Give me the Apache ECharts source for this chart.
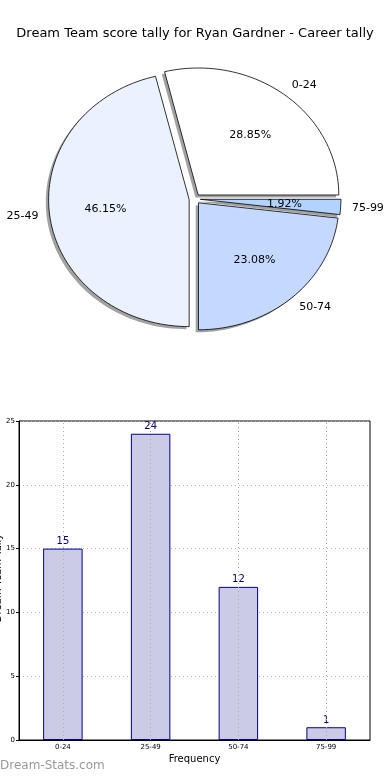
<!DOCTYPE html>
<html>
<head>
<meta charset="utf-8">
<style>
html,body{margin:0;padding:0;background:#fff;}
#c{width:390px;height:780px;}
</style>
<script src="https://cdn.jsdelivr.net/npm/echarts@6/dist/echarts.min.js"></script>
</head>
<body>
<div id="c"></div>
<script>
const titleText = 'Dream Team score tally for Ryan Gardner - Career tally';
const categories = ['0-24', '25-49', '50-74', '75-99'];
const tallies = [15, 24, 12, 1];
const sliceColors = ['#ffffff', '#ebf2ff', '#c5d9ff', '#b3d3ff'];
const yTicks = [0, 5, 10, 15, 20, 25];
const xAxisName = 'Frequency';
const yAxisName = 'Dream Team Tally';
const watermark = 'Dream-Stats.com';

const FONT = 'DejaVu Sans';
const total = tallies.reduce((a, b) => a + b, 0);
const startAngles = [];
let acc = 0;
tallies.forEach(v => { startAngles.push(acc / total * 360); acc += v; });
const EXPLODE = 0.04;

function slicePts(i, api, dx, dy) {
  const t1 = startAngles[i], t2 = t1 + tallies[i] / total * 360;
  const mid = (t1 + t2) / 2 * Math.PI / 180;
  const ox = EXPLODE * Math.cos(mid) + dx, oy = EXPLODE * Math.sin(mid) + dy;
  const pts = [api.coord([ox, oy])];
  const n = Math.max(4, Math.ceil((t2 - t1) / 2));
  for (let k = 0; k <= n; k++) {
    const a = (t1 + (t2 - t1) * k / n) * Math.PI / 180;
    pts.push(api.coord([ox + Math.cos(a), oy + Math.sin(a)]));
  }
  return { pts, mid, ox: ox - dx, oy: oy - dy };
}

const chart = echarts.init(document.getElementById('c'), null, { renderer: 'canvas' });
chart.setOption({
  animation: false,
  backgroundColor: '#fff',
  textStyle: { fontFamily: FONT },
  title: {
    text: titleText, left: 'center', top: 22,
    textStyle: { fontFamily: FONT, fontSize: 13, fontWeight: 'normal', color: '#000' }
  },
  graphic: [
    {
      type: 'text', left: 0, top: 760,
      style: { text: watermark, fontFamily: FONT, fontSize: 12, fontWeight: 'normal', fill: '#999999' }
    },
    {
      type: 'text', x: -2, y: 578, rotation: Math.PI / 2,
      style: { text: yAxisName, fontFamily: FONT, fontSize: 10, fill: '#000', align: 'center', verticalAlign: 'middle' }
    }
  ],
  grid: [
    { left: 19, right: 20, top: 421, bottom: 40, show: true, borderColor: '#000', borderWidth: 1,
      containLabel: false, outerBoundsMode: 'none' },
    { left: 12, top: 33.9, width: 365.5, height: 330.2, show: false, containLabel: false, outerBoundsMode: 'none' }
  ],
  xAxis: [
    {
      type: 'category', gridIndex: 0, data: categories,
      name: xAxisName, nameLocation: 'middle', nameGap: 14,
      nameTextStyle: { fontFamily: FONT, fontSize: 10, color: '#000' },
      axisLine: { lineStyle: { color: '#000' } },
      axisTick: { show: false },
      axisLabel: { fontFamily: FONT, fontSize: 7, color: '#000', margin: 4 },
      splitLine: { show: false }
    },
    { type: 'value', gridIndex: 1, min: -1.3, max: 1.3, show: false }
  ],
  yAxis: [
    {
      type: 'value', gridIndex: 0, min: yTicks[0], max: yTicks[yTicks.length - 1], interval: 5,
      axisLine: { show: true, lineStyle: { color: '#000' } },
      axisTick: { show: true, length: 3, lineStyle: { color: '#000' } },
      axisLabel: { fontFamily: FONT, fontSize: 7, color: '#000', margin: 4 },
      splitLine: { show: true, lineStyle: { color: '#b8b8b8', type: [1, 3], width: 1 } }
    },
    { type: 'value', gridIndex: 1, min: -1.3, max: 1.3, show: false }
  ],
  series: [
    {
      type: 'bar', xAxisIndex: 0, yAxisIndex: 0, barWidth: '45%', z: 3,
      data: tallies,
      itemStyle: { color: 'rgba(200,200,228,0.95)', borderColor: '#00008b', borderWidth: 1 },
      label: { show: true, position: 'top', distance: 2, fontFamily: FONT, fontSize: 10, color: '#000080' },
      markLine: {
        silent: true, symbol: 'none', label: { show: false }, z: 4,
        lineStyle: { color: '#aaaaaa', type: [1, 3], width: 1 },
        data: categories.map(c => ({ xAxis: c }))
      }
    },
    {
      type: 'custom', xAxisIndex: 1, yAxisIndex: 1, z: 1,
      data: tallies.map((v, i) => [i]),
      renderItem: function (params, api) {
        const i = params.dataIndex;
        const s = slicePts(i, api, -0.02, -0.02);
        return {
          type: 'polygon', shape: { points: s.pts },
          style: { fill: 'rgba(70,70,70,0.5)', stroke: null }
        };
      }
    },
    {
      type: 'custom', xAxisIndex: 1, yAxisIndex: 1, z: 2,
      data: tallies.map((v, i) => [i]),
      renderItem: function (params, api) {
        const i = params.dataIndex;
        const s = slicePts(i, api, 0, 0);
        const lx = s.ox + 1.08 * Math.cos(s.mid), ly = s.oy + 1.1 * Math.sin(s.mid);
        const lp = api.coord([lx, ly]);
        const px = s.ox + 0.6 * Math.cos(s.mid), py = s.oy + 0.6 * Math.sin(s.mid);
        const pp = api.coord([px, py]);
        const pct = (tallies[i] / total * 100).toFixed(2) + '%';
        return {
          type: 'group',
          children: [
            { type: 'polygon', shape: { points: s.pts },
              style: { fill: sliceColors[i], stroke: '#000', lineWidth: 0.8 } },
            { type: 'text', x: lp[0], y: lp[1],
              style: { text: categories[i], fontFamily: FONT, fontSize: 11, fill: '#000',
                       align: lx > 0 ? 'left' : 'right', verticalAlign: 'middle' } },
            { type: 'text', x: pp[0], y: pp[1],
              style: { text: pct, fontFamily: FONT, fontSize: 11, fill: '#000',
                       align: 'center', verticalAlign: 'middle' } }
          ]
        };
      }
    }
  ]
});
</script>
</body>
</html>
